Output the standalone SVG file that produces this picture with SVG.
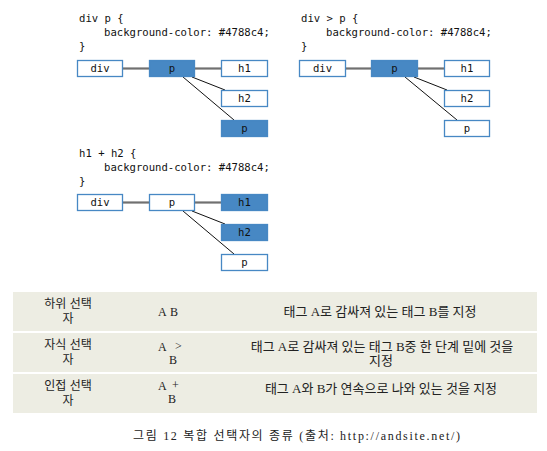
<svg xmlns="http://www.w3.org/2000/svg" width="547" height="451" viewBox="0 0 547 451">
<style>
.code{font-family:"DejaVu Sans Mono","Liberation Mono",monospace;font-size:10.6px;fill:#111}
.box{fill:#fff;stroke:#4788c4;stroke-width:1.3}
.on{fill:#4788c4;stroke:#4788c4;stroke-width:1.3}
.lbl{font-family:"DejaVu Sans Mono","Liberation Mono",monospace;font-size:10.6px;fill:#111;text-anchor:middle}
.h{stroke:#707070;stroke-width:2.2;fill:none}
.d{stroke:#111;stroke-width:1;fill:none}
.row{fill:#ededE3}
.kr{font-family:"Liberation Sans","Noto Sans CJK KR",sans-serif;font-size:12px;fill:#222;text-anchor:middle}
.mix{font-family:"Liberation Serif","Noto Sans CJK KR",serif;font-size:13px;fill:#222;text-anchor:middle}
.ab{font-family:"Liberation Serif",serif;font-size:12px;fill:#222}
.cap{font-family:"Liberation Serif","Noto Sans CJK KR",serif;font-size:12px;fill:#222}
</style>
<rect width="547" height="451" fill="#fff"/>

<!-- code texts -->
<g id="code1">
<text class="code" x="79" y="22">div p {</text>
<text class="code" x="104" y="36">background-color: #4788c4;</text>
<text class="code" x="79" y="50">}</text>
</g>
<g id="code2">
<text class="code" x="301" y="22">div &gt; p {</text>
<text class="code" x="326" y="36">background-color: #4788c4;</text>
<text class="code" x="301" y="50">}</text>
</g>
<g id="code3">
<text class="code" x="79" y="157">h1 + h2 {</text>
<text class="code" x="104" y="171">background-color: #4788c4;</text>
<text class="code" x="79" y="185">}</text>
</g>

<!-- connectors -->
<g id="connectors">
<line class="h" x1="123" y1="68.5" x2="149" y2="68.5"/>
<line class="h" x1="195" y1="68.5" x2="221" y2="68.5"/>
<line class="d" x1="192" y1="77" x2="225" y2="90"/>
<line class="d" x1="183" y1="77" x2="234" y2="120"/>

<line class="h" x1="345" y1="68.5" x2="371" y2="68.5"/>
<line class="h" x1="417" y1="68.5" x2="444" y2="68.5"/>
<line class="d" x1="414" y1="77" x2="447" y2="90"/>
<line class="d" x1="405" y1="77" x2="457" y2="120"/>

<line class="h" x1="123" y1="202.5" x2="149" y2="202.5"/>
<line class="h" x1="195" y1="202.5" x2="221" y2="202.5"/>
<line class="d" x1="192" y1="211" x2="225" y2="224"/>
<line class="d" x1="183" y1="211" x2="234" y2="254"/>
</g>

<!-- panel 1 -->
<g id="p1-div"><rect class="box" x="77.5" y="60.5" width="45" height="16"/><text class="lbl" x="100" y="72">div</text></g>
<g id="p1-p"><rect class="on" x="149.5" y="60.5" width="45" height="16"/><text class="lbl" x="172" y="72">p</text></g>
<g id="p1-h1"><rect class="box" x="221.5" y="60.5" width="46" height="16"/><text class="lbl" x="244.5" y="72">h1</text></g>
<g id="p1-h2"><rect class="box" x="221.5" y="90.5" width="46" height="16"/><text class="lbl" x="244.5" y="102">h2</text></g>
<g id="p1-p2"><rect class="on" x="221.5" y="120.5" width="46" height="16"/><text class="lbl" x="244.5" y="132">p</text></g>

<!-- panel 2 -->
<g id="p2-div"><rect class="box" x="299.5" y="60.5" width="46" height="16"/><text class="lbl" x="322.5" y="72">div</text></g>
<g id="p2-p"><rect class="on" x="371.5" y="60.5" width="46" height="16"/><text class="lbl" x="394.5" y="72">p</text></g>
<g id="p2-h1"><rect class="box" x="444.5" y="60.5" width="45" height="16"/><text class="lbl" x="467" y="72">h1</text></g>
<g id="p2-h2"><rect class="box" x="444.5" y="90.5" width="45" height="16"/><text class="lbl" x="467" y="102">h2</text></g>
<g id="p2-p2"><rect class="box" x="444.5" y="120.5" width="45" height="16"/><text class="lbl" x="467" y="132">p</text></g>

<!-- panel 3 -->
<g id="p3-div"><rect class="box" x="77.5" y="194.5" width="45" height="16"/><text class="lbl" x="100" y="206">div</text></g>
<g id="p3-p"><rect class="box" x="149.5" y="194.5" width="45" height="16"/><text class="lbl" x="172" y="206">p</text></g>
<g id="p3-h1"><rect class="on" x="221.5" y="194.5" width="46" height="16"/><text class="lbl" x="244.5" y="206">h1</text></g>
<g id="p3-h2"><rect class="on" x="221.5" y="224.5" width="46" height="16"/><text class="lbl" x="244.5" y="236">h2</text></g>
<g id="p3-p2"><rect class="box" x="221.5" y="254.5" width="46" height="16"/><text class="lbl" x="244.5" y="266">p</text></g>

<!-- table -->
<g id="table">
<rect class="row" x="13" y="292" width="524" height="39"/>
<rect class="row" x="13" y="333" width="524" height="39"/>
<rect class="row" x="13" y="374" width="524" height="39"/>

<text class="kr"><tspan x="68" y="308">하위 선택</tspan><tspan x="68" y="322.5">자</tspan></text>
<text class="ab" x="158" y="316">A</text><text class="ab" x="170" y="316">B</text>
<text class="mix" x="380" y="316">태그 A로 감싸져 있는 태그 B를 지정</text>

<text class="kr"><tspan x="68" y="349">자식 선택</tspan><tspan x="68" y="363.5">자</tspan></text>
<text class="ab" x="158" y="351">A</text><text class="ab" x="175" y="350" font-size="10">&gt;</text><text class="ab" x="169" y="364">B</text>
<text class="mix"><tspan x="382" y="351">태그 A로 감싸져 있는 태그 B중 한 단계 밑에 것을</tspan><tspan x="381" y="365">지정</tspan></text>

<text class="kr"><tspan x="68" y="390">인접 선택</tspan><tspan x="68" y="404.5">자</tspan></text>
<text class="ab" x="158" y="390">A</text><text class="ab" x="172" y="389">+</text><text class="ab" x="168" y="403">B</text>
<text class="mix" x="381" y="393">태그 A와 B가 연속으로 나와 있는 것을 지정</text>
</g>

<text class="cap" x="133" y="440" textLength="327" lengthAdjust="spacing">그림 12 복합 선택자의 종류 (출처: http://andsite.net/)</text>
</svg>
